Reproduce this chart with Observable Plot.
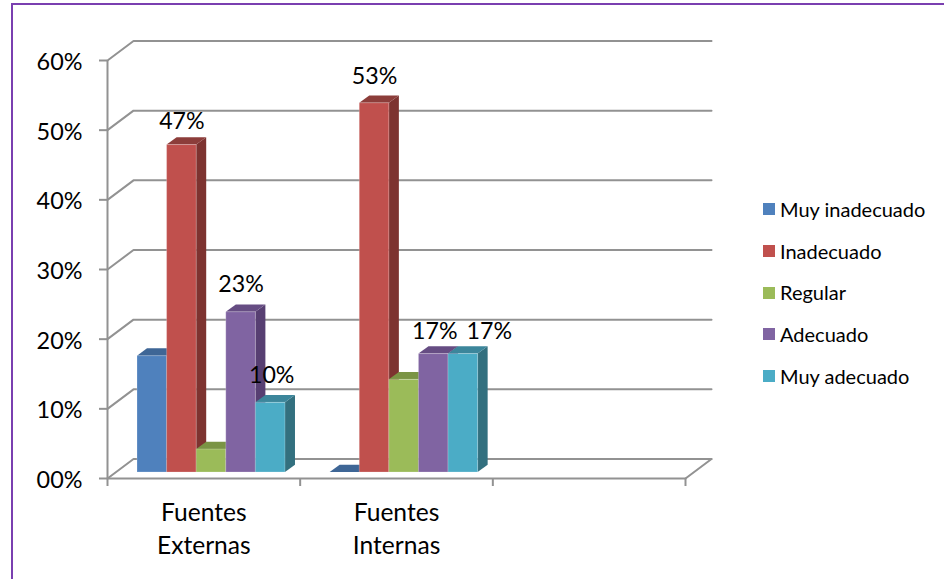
<!DOCTYPE html>
<html lang="es">
<head>
<meta charset="utf-8">
<script src="https://cdn.jsdelivr.net/npm/d3@7"></script>
<script src="https://cdn.jsdelivr.net/npm/@observablehq/plot@0.6"></script>
<style>
  html, body { margin: 0; background: #fff; overflow: hidden; }
  #page { position: relative; width: 944px; height: 579px; overflow: hidden; font-family: Lato, sans-serif; color: #000; }
  #page svg { position: absolute; left: 0; top: 0; }
  #frame { position: absolute; left: 11px; top: 3px; width: 2000px; height: 2000px; border: 2px solid #7a3fb0; box-sizing: border-box; }
  #legend { position: absolute; left: 763px; top: 188px; margin: 0; padding: 0; list-style: none; font-size: 20px; }
  #legend li { display: flex; align-items: center; height: 41.7px; white-space: nowrap; }
  #legend i { width: 12px; height: 12px; margin-right: 5px; margin-top: 1px; }
</style>
</head>
<body>
<div id="page"><div id="frame"></div><ul id="legend"></ul></div>
<script>
// Survey results: share of answers per rating, for each source of information.
const categories = ["Fuentes\nExternas", "Fuentes\nInternas"];
const ratings = ["Muy inadecuado", "Inadecuado", "Regular", "Adecuado", "Muy adecuado"];
const externas = [16.7, 47, 3.3, 23, 10];
const internas = [0, 53, 13.3, 17, 17];
const labelled = [
  [false, true, false, true, true],
  [false, true, false, true, true]
];
const yTicks = [0, 10, 20, 30, 40, 50, 60];

const frontColors = ["#4f81bd", "#c0504d", "#9bbb59", "#8064a2", "#4bacc6"];
const sideColors = ["#35587f", "#7d3330", "#6b813c", "#573f72", "#33707f"];
const topColors = ["#3e6696", "#8c3d3a", "#7a9444", "#664d83", "#3c869b"];

// The pseudo-3D box, in data units: wall depth, bar depth, bar placement on the floor.
const wallDx = 0.135, wallDy = 2.8;
const barDx = 0.052, barDy = 1.05;
const floorY = 0.86, firstBar = 0.1557, barWidth = 0.1536;
const categorySlots = 3;
const gridColor = "#929292";

const bars = [externas, internas].flatMap((values, g) =>
  values.map((value, i) => {
    const x1 = g + firstBar + i * barWidth;
    return {g, i, value, x1, x2: x1 + barWidth, y1: floorY, y2: floorY + value, shown: labelled[g][i]};
  })
);

// Pixel offsets that keep each value label clear of its bar.
const labelNudge = {"0-1": [0, -24], "0-3": [0, -28], "0-4": [1, -27], "1-1": [0, -27], "1-3": [1, -23], "1-4": [26, -23]};

const grid = yTicks.flatMap((v) => [
  {v, x: 0, y: v},
  {v, x: wallDx, y: v + wallDy},
  {v, x: categorySlots + wallDx, y: v + wallDy}
]);

const barMarks = bars.flatMap((b) => [
  // right-hand side of the box
  Plot.areaY([{x: b.x2, y1: b.y1, y2: b.y2}, {x: b.x2 + barDx, y1: b.y1 + barDy, y2: b.y2 + barDy}],
    {x: "x", y1: "y1", y2: "y2", fill: sideColors[b.i]}),
  // top of the box
  Plot.areaX([{y: b.y2, x1: b.x1, x2: b.x2}, {y: b.y2 + barDy, x1: b.x1 + barDx, x2: b.x2 + barDx}],
    {y: "y", x1: "x1", x2: "x2", fill: topColors[b.i]}),
  // front face, with the faint pale rim of the bevel
  Plot.rect([b], {x1: "x1", x2: "x2", y1: "y1", y2: "y2", fill: frontColors[b.i], stroke: "#fff", strokeOpacity: 0.22, strokeWidth: 1})
]);

const valueLabels = bars.filter((b) => b.shown).map((b) => {
  const [dx, dy] = labelNudge[`${b.g}-${b.i}`];
  return Plot.text([b], {
    x: (d) => (d.x1 + d.x2) / 2,
    y: "y2",
    text: (d) => `${d.value}%`,
    dx,
    dy,
    fontSize: 23.2,
    fill: "#000"
  });
});

const chart = Plot.plot({
  width: 944,
  height: 579,
  marginLeft: 107,
  marginRight: 259,
  marginTop: 60,
  marginBottom: 101,
  style: {background: "transparent", fontFamily: "Lato, sans-serif", color: "#000"},
  x: {type: "linear", domain: [0, categorySlots], axis: null},
  y: {type: "linear", domain: [0, 60], axis: null},
  marks: [
    Plot.line(grid, {x: "x", y: "y", z: "v", stroke: gridColor, strokeWidth: 2}),
    Plot.line([0, categorySlots], {x: (d) => d, y: () => 0, stroke: gridColor, strokeWidth: 2}),
    Plot.line([{x: categorySlots, y: 0}, {x: categorySlots + wallDx, y: wallDy}], {x: "x", y: "y", stroke: gridColor, strokeWidth: 2}),
    Plot.ruleX([0], {y1: 0, y2: 60, stroke: gridColor, strokeWidth: 2}),
    Plot.axisY({
      ticks: yTicks,
      tickSize: 8,
      stroke: gridColor,
      strokeWidth: 2,
      strokeOpacity: 1,
      label: null,
      tickFormat: () => ""
    }),
    Plot.text(yTicks, {
      x: () => 0,
      y: (d) => d,
      text: (d) => `${String(d).padStart(2, "0")}%`,
      textAnchor: "end",
      dx: -25,
      dy: 2,
      fontSize: 23.4,
      fill: "#000"
    }),
    Plot.axisX({
      ticks: [0, 1, 2, 3],
      tickSize: 8,
      stroke: gridColor,
      strokeWidth: 2,
      strokeOpacity: 1,
      label: null,
      tickFormat: () => ""
    }),
    ...barMarks,
    Plot.text(categories, {
      x: (d, i) => i + 0.5,
      y: () => 0,
      text: (d) => d,
      dy: 48,
      fontSize: 24.6,
      lineHeight: 1.34,
      fill: "#000"
    }),
    ...valueLabels
  ]
});

document.getElementById("page").appendChild(chart);

// Colour key beside the plot area
const legend = d3.select("#legend");
ratings.forEach((name, i) => {
  const row = legend.append("li");
  row.append("i").style("background", frontColors[i]);
  row.append("span").text(name);
});
</script>
</body>
</html>
